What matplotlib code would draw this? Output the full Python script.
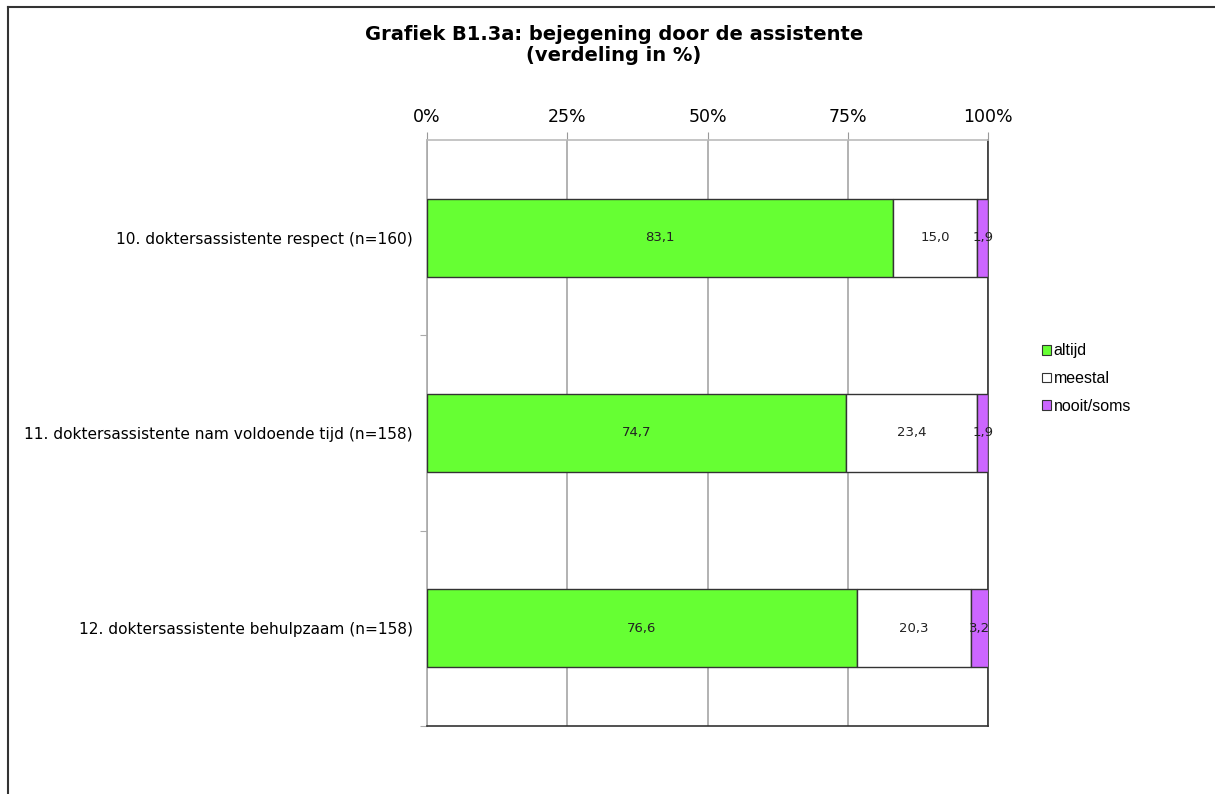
import matplotlib.pyplot as plt
from matplotlib.patches import Patch
from matplotlib.lines import Line2D

# Verdeling van antwoorden per vraag (in %)
questions = [
    "10. doktersassistente respect (n=160)",
    "11. doktersassistente nam voldoende tijd (n=158)",
    "12. doktersassistente behulpzaam (n=158)",
]
altijd = [83.1, 74.7, 76.6]
meestal = [15.0, 23.4, 20.3]
nooit_soms = [1.9, 1.9, 3.2]

series = [("altijd", altijd, "#66FF33"),
          ("meestal", meestal, "#FFFFFF"),
          ("nooit/soms", nooit_soms, "#CC66FF")]

W, H = 1215, 794
fig = plt.figure(figsize=(W / 100, H / 100), dpi=100)
ax = fig.add_axes([427 / W, 1 - 726 / H, (988 - 427) / W, (726 - 140) / H])

y = list(range(len(questions)))
left = [0.0] * len(questions)
handles = []
for name, vals, color in series:
    ax.barh(y, vals, left=left, height=0.4, color=color,
            edgecolor="#333333", linewidth=1.0, zorder=3)
    for yi, (l, v) in enumerate(zip(left, vals)):
        ax.text(l + v / 2, yi, f"{v:.1f}".replace(".", ","),
                ha="center", va="center", fontsize=9.5, color="#222222",
                zorder=4)
    left = [l + v for l, v in zip(left, vals)]
    handles.append(Patch(facecolor=color, edgecolor="#333333",
                         linewidth=0.8, label=name))

ax.set_xlim(0, 100)
ax.set_ylim(len(questions) - 0.5, -0.5)

ax.xaxis.tick_top()
ax.set_xticks([0, 25, 50, 75, 100])
ax.set_xticklabels(["0%", "25%", "50%", "75%", "100%"], fontsize=12.5)
ax.tick_params(axis="x", which="major", direction="out", length=6,
               color="#999999", pad=4)
ax.grid(axis="x", color="#A6A6A6", linewidth=1.2, zorder=0)

# boundaries between categories get the tick marks, centres get the labels
ax.set_yticks([0.5, 1.5, 2.5])
ax.set_yticklabels([])
ax.tick_params(axis="y", which="major", direction="out", length=5,
               color="#AAAAAA")
ax.set_yticks(y, minor=True)
ax.set_yticklabels(questions, minor=True, fontsize=11.1)
ax.tick_params(axis="y", which="minor", length=0, pad=10)

ax.spines["top"].set_color("#BBBBBB")
ax.spines["left"].set_color("#AAAAAA")
ax.spines["bottom"].set_color("#333333")
ax.spines["right"].set_color("#333333")
for s in ax.spines.values():
    s.set_linewidth(1.2)

fig.text(614 / W, 1 - 45 / H, "Grafiek B1.3a: bejegening door de assistente\n(verdeling in %)",
         ha="center", va="center", fontsize=14, fontweight="bold",
         linespacing=1.15)

fig.legend(handles=handles, loc="upper left",
           bbox_to_anchor=(1036 / W, 1 - 337 / H), frameon=False,
           prop={"family": "Liberation Sans", "size": 11.5},
           handlelength=0.55, handleheight=0.55, handletextpad=0.15,
           labelspacing=0.8, borderaxespad=0)

# outer frame of the chart
fig.add_artist(Line2D([8 / W, 1], [1 - 7 / H, 1 - 7 / H], color="#333333",
                      linewidth=1.5, transform=fig.transFigure))
fig.add_artist(Line2D([8 / W, 8 / W], [0, 1 - 7 / H], color="#333333",
                      linewidth=1.5, transform=fig.transFigure))

fig.savefig("out.png", dpi=100)
